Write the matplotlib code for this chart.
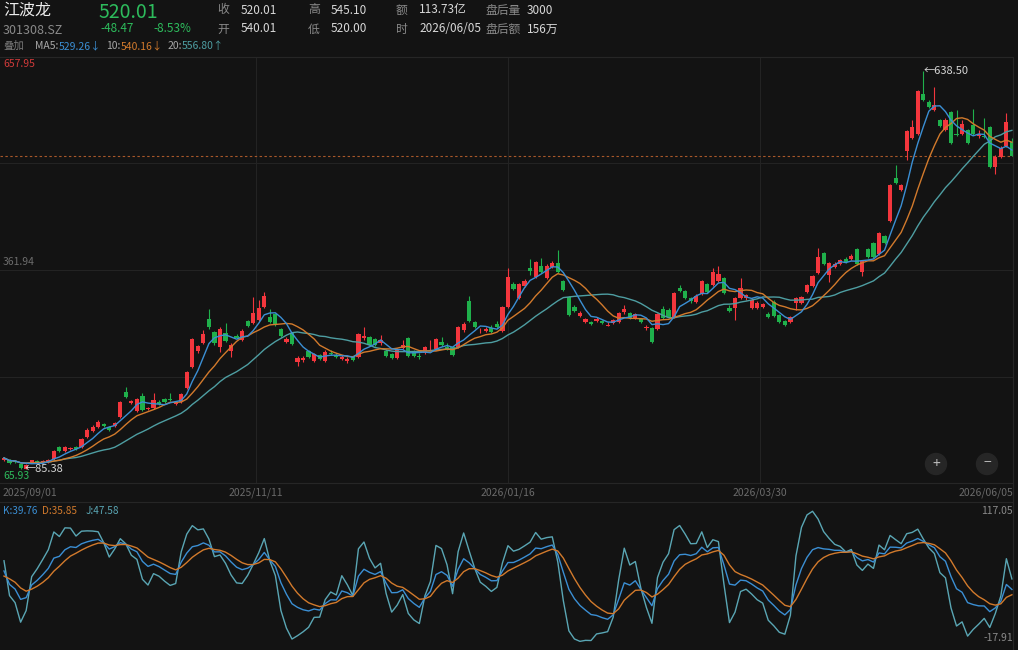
import numpy as np
import pandas as pd
import matplotlib
matplotlib.use('Agg')
import matplotlib.pyplot as plt
from matplotlib.patches import Circle

plt.rcParams['font.family'] = ['Noto Sans CJK SC', 'DejaVu Sans']

W, H = 1018, 650
BG = '#131313'

# ---------------- data ----------------
opens = [
    97.9, 97.9, 96.5, 92.3, 86.0, 95.8, 96.5, 95.1, 95.1, 99.3,
    116.0, 110.4, 113.2, 116.0, 116.0, 129.9, 138.2, 143.8, 147.9, 143.8,
    145.1, 157.6, 192.4, 177.8, 166.0, 186.8, 168.8, 170.2, 178.5, 182.7,
    182.7, 175.8, 178.5, 198.0, 227.1, 249.4, 260.5, 293.8, 275.8, 254.9,
    274.4, 249.4, 270.2, 264.7, 291.1, 288.3, 292.5, 310.5, 296.6, 300.8,
    280.0, 261.9, 274.4, 234.1, 236.9, 249.4, 235.5, 243.8, 235.5, 246.6,
    243.8, 238.3, 235.5, 241.0, 241.0, 267.5, 268.8, 266.1, 260.5, 249.4,
    245.2, 239.7, 253.6, 267.5, 248.0, 242.4, 246.6, 252.9, 252.2, 261.9,
    254.9, 254.9, 254.9, 278.6, 318.9, 289.7, 276.5, 277.2, 281.3, 286.9,
    277.2, 310.5, 342.5, 323.0, 339.7, 364.7, 352.2, 367.5, 350.8, 366.1,
    371.7, 346.7, 324.4, 310.5, 298.0, 289.7, 289.7, 291.1, 291.1, 284.8,
    288.3, 289.7, 303.6, 302.2, 295.2, 293.8, 281.3, 281.3, 280.0, 307.7,
    306.3, 296.6, 336.9, 332.7, 323.0, 317.5, 328.6, 342.5, 341.1, 346.7,
    350.8, 309.1, 309.1, 323.0, 323.0, 309.1, 309.1, 310.5, 300.8, 317.5,
    299.4, 291.1, 289.7, 316.1, 316.1, 331.4, 339.7, 357.8, 385.6, 355.0,
    366.1, 370.3, 377.2, 377.2, 391.1, 359.2, 391.1, 399.5, 384.2, 409.2,
    430.0, 489.8, 473.1, 527.3, 545.4, 550.9, 606.5, 595.4, 584.3, 570.4,
    556.5, 581.5, 550.9, 550.9, 556.5, 563.4, 548.1, 548.1, 560.7, 505.1,
    519.0, 534.3, 540.01]
highs = [
    102.1, 99.3, 97.9, 93.7, 92.3, 97.9, 97.9, 97.9, 99.3, 111.8,
    117.4, 117.4, 116.0, 117.4, 128.5, 142.4, 146.5, 153.5, 149.3, 145.1,
    150.7, 179.9, 199.3, 181.3, 184.1, 191.0, 171.6, 191.0, 181.3, 184.1,
    191.0, 179.9, 191.0, 221.6, 267.5, 257.7, 278.6, 307.7, 277.2, 282.7,
    288.3, 260.5, 273.0, 280.0, 292.5, 324.4, 320.2, 331.4, 307.7, 302.2,
    281.3, 268.8, 275.8, 242.4, 242.4, 250.8, 246.6, 245.2, 250.8, 250.8,
    246.6, 243.8, 241.0, 242.4, 274.4, 282.7, 270.2, 267.5, 271.6, 252.2,
    246.6, 253.6, 264.7, 268.8, 250.8, 246.6, 256.3, 264.7, 267.5, 268.8,
    260.5, 256.3, 284.1, 289.7, 325.8, 291.1, 281.3, 282.7, 285.5, 291.1,
    311.9, 364.7, 345.3, 343.9, 349.5, 377.2, 374.4, 378.6, 370.3, 374.4,
    389.7, 348.0, 325.8, 313.3, 305.0, 295.2, 291.1, 296.6, 292.5, 289.7,
    293.8, 303.6, 313.3, 303.6, 302.2, 295.2, 285.5, 282.7, 302.2, 311.9,
    309.1, 331.4, 341.1, 334.1, 324.4, 328.6, 348.0, 343.9, 364.7, 367.5,
    352.2, 313.3, 324.4, 350.8, 328.6, 323.0, 319.0, 316.0, 303.6, 320.2,
    300.8, 292.5, 298.0, 324.4, 325.8, 342.5, 355.0, 392.5, 387.0, 373.0,
    373.0, 377.2, 380.0, 384.2, 392.5, 375.8, 392.5, 400.9, 414.8, 410.6,
    481.5, 507.8, 481.5, 556.5, 570.4, 612.1, 638.5, 598.2, 616.3, 571.8,
    573.2, 582.9, 584.3, 570.4, 558.1, 585.7, 556.5, 573.2, 562.0, 521.8,
    534.3, 580.1, 545.10]
lows = [
    96.5, 92.3, 93.7, 86.0, 85.38, 95.1, 93.7, 93.7, 93.7, 97.9,
    109.0, 109.0, 111.8, 111.8, 114.6, 128.5, 136.8, 142.4, 143.8, 138.2,
    143.8, 156.3, 184.1, 175.8, 164.6, 166.0, 167.4, 168.8, 174.4, 177.2,
    179.9, 174.4, 177.2, 196.6, 225.7, 246.6, 259.1, 280.0, 257.7, 248.0,
    261.9, 241.0, 266.1, 263.3, 282.7, 286.9, 291.1, 309.1, 288.3, 284.1,
    268.8, 260.5, 257.7, 228.5, 234.1, 239.7, 234.1, 236.9, 234.1, 243.8,
    239.7, 236.9, 232.7, 235.5, 239.7, 264.7, 256.3, 256.3, 257.7, 241.0,
    238.3, 238.3, 252.2, 241.0, 241.0, 238.3, 245.2, 250.8, 250.8, 256.3,
    250.8, 242.4, 253.6, 275.8, 289.7, 281.3, 274.4, 275.8, 274.4, 281.3,
    275.8, 309.1, 334.1, 321.6, 338.3, 355.0, 350.8, 357.8, 349.4, 364.7,
    357.8, 332.7, 298.0, 303.6, 296.6, 288.3, 285.5, 289.7, 286.9, 284.1,
    286.9, 288.3, 300.8, 293.8, 293.8, 288.3, 278.6, 260.5, 278.6, 293.8,
    295.2, 295.2, 331.4, 321.6, 316.1, 316.1, 327.2, 330.0, 339.7, 345.3,
    328.6, 303.6, 292.5, 321.6, 320.2, 307.7, 307.7, 309.0, 295.2, 296.6,
    288.3, 284.1, 288.3, 306.3, 314.7, 330.0, 338.3, 356.4, 368.9, 345.0,
    364.7, 368.9, 371.7, 375.8, 368.9, 353.6, 378.6, 378.6, 382.8, 398.1,
    428.6, 481.5, 471.7, 514.8, 544.0, 549.5, 596.8, 587.1, 582.9, 560.7,
    555.1, 537.0, 548.1, 549.5, 537.0, 549.5, 545.4, 545.4, 503.7, 495.3,
    517.6, 532.9, 520.00]
closes = [
    100.7, 93.7, 95.1, 86.8, 90.9, 97.2, 95.1, 96.5, 97.9, 110.4,
    110.4, 116.0, 114.6, 113.2, 127.1, 139.6, 143.8, 150.7, 145.1, 139.6,
    149.3, 178.5, 185.5, 179.2, 182.7, 167.4, 170.2, 181.3, 175.8, 178.5,
    181.3, 178.5, 189.6, 220.2, 266.0, 256.3, 273.0, 282.7, 260.5, 280.0,
    263.3, 257.7, 267.5, 277.2, 284.1, 302.2, 309.1, 325.8, 289.7, 285.5,
    270.2, 266.1, 259.1, 239.7, 239.7, 241.0, 245.2, 238.3, 248.0, 245.2,
    241.0, 241.0, 238.3, 236.9, 273.0, 270.2, 257.7, 257.7, 264.7, 242.4,
    239.7, 252.2, 257.7, 242.4, 242.4, 241.7, 254.9, 253.6, 266.1, 257.7,
    252.2, 243.8, 282.7, 286.9, 291.1, 282.7, 277.2, 280.0, 275.8, 282.7,
    310.5, 352.2, 335.5, 342.5, 346.7, 360.6, 373.0, 359.2, 367.5, 371.7,
    359.2, 334.1, 299.4, 305.0, 302.2, 293.8, 286.9, 293.8, 288.3, 285.5,
    292.5, 302.2, 307.7, 295.2, 300.8, 289.7, 282.7, 261.9, 300.8, 295.2,
    296.6, 330.0, 332.7, 323.0, 318.9, 325.8, 346.7, 331.4, 359.2, 356.4,
    330.0, 305.0, 323.0, 336.9, 327.2, 320.2, 316.1, 314.7, 296.6, 298.0,
    289.7, 285.5, 296.6, 323.0, 324.4, 341.1, 353.6, 380.0, 370.3, 371.7,
    370.3, 375.8, 373.0, 381.4, 370.3, 374.4, 380.0, 380.0, 413.4, 399.5,
    480.1, 482.8, 480.1, 555.1, 560.7, 610.7, 598.2, 588.5, 591.2, 562.0,
    570.4, 538.4, 549.5, 564.8, 538.4, 550.9, 550.9, 546.7, 505.1, 519.0,
    531.5, 567.6, 520.01]

date_labels = ['2025/09/01', '2025/11/11', '2026/01/16', '2026/03/30', '2026/06/05']
date_index = [0, 45.5, 91, 136.5, 182]

price_axis_top, price_axis_mid, price_axis_bot = 657.95, 361.94, 65.93
kdj_axis_top, kdj_axis_bot = 117.05, -17.91
kdj_last = {'K': 39.76, 'D': 35.85, 'J': 47.58}
ma_last = {'MA5': '529.26↓', '10': '540.16↓', '20': '556.80↑'}
high_mark = (166, 638.50)
low_mark = (4, 85.38)

header_row1 = [('收', '520.01'), ('高', '545.10'), ('额', '113.73亿'), ('盘后量', '3000')]
header_row2 = [('开', '540.01'), ('低', '520.00'), ('时', '2026/06/05'), ('盘后额', '156万')]

# ---------------- styles ----------------
RED = '#f3363d'
GREEN = '#1fb04b'
TXT_GREEN = '#2dbb5c'
C_MA5 = '#3b8fd4'
C_MA10 = '#d27a2c'
C_MA20 = '#4e9ea2'
C_K = '#3b8fd4'
C_D = '#d27a2c'
C_J = '#5aa6b4'
GRID = '#232323'

n = len(closes)
idx = np.arange(n)
o = np.array(opens); h = np.array(highs); l = np.array(lows); c = np.array(closes)
up = c >= o

sc = pd.Series(c)
ma5 = sc.rolling(5, min_periods=1).mean()
ma10 = sc.rolling(10, min_periods=1).mean()
ma20 = sc.rolling(20, min_periods=1).mean()

# KDJ (9,3,3)
llv = pd.Series(l).rolling(9, min_periods=1).min()
hhv = pd.Series(h).rolling(9, min_periods=1).max()
rsv = ((sc - llv) / (hhv - llv) * 100).fillna(50).values
K = np.zeros(n); D = np.zeros(n)
k_prev, d_prev = 50.0, 50.0
for i in range(n):
    k_prev = 2 / 3 * k_prev + rsv[i] / 3
    d_prev = 2 / 3 * d_prev + k_prev / 3
    K[i], D[i] = k_prev, d_prev
J = 3 * K - 2 * D

fig = plt.figure(figsize=(W / 100, H / 100), dpi=100, facecolor=BG)


def rect(x0, y0, x1, y1):
    return [x0 / W, 1 - y1 / H, (x1 - x0) / W, (y1 - y0) / H]


STEP = 5.538
X0 = 4.0
XR = 1013
xlim = (-X0 / STEP, (XR - X0) / STEP)

# ---------------- main candle panel ----------------
ax = fig.add_axes(rect(0, 57, XR, 483))
ax.set_facecolor(BG)
ax.set_xlim(*xlim)
ax.set_ylim(price_axis_bot, price_axis_top)
for sp in ax.spines.values():
    sp.set_visible(False)
ax.set_xticks([]); ax.set_yticks([])

for val in [(price_axis_top + price_axis_mid) / 2, price_axis_mid, (price_axis_mid + price_axis_bot) / 2]:
    ax.axhline(val, color=GRID, lw=0.8, zorder=0)
for xi in date_index[1:-1]:
    ax.axvline(xi, color=GRID, lw=0.8, zorder=0)

cols = np.where(up, RED, GREEN)
ax.vlines(idx, l, h, colors=cols, lw=0.8, zorder=2)
body_bot = np.minimum(o, c)
body_h = np.maximum(np.abs(c - o), 0.9)
ax.bar(idx, body_h, bottom=body_bot, width=0.76, color=cols, linewidth=0, zorder=3)

ax.plot(idx, ma20, color=C_MA20, lw=1.0, zorder=4)
ax.plot(idx, ma10, color=C_MA10, lw=1.0, zorder=4)
ax.plot(idx, ma5, color=C_MA5, lw=1.0, zorder=4)

ax.axhline(c[-1], color='#a8582a', lw=0.8, ls=(0, (2.2, 2.2)), zorder=1)

ax.text(high_mark[0] + 0.1, high_mark[1], '←' + f'{high_mark[1]:.2f}', color='#d6d6d6',
        fontsize=8, va='center', ha='left', zorder=6)
ax.text(low_mark[0] - 0.3, low_mark[1], '←' + f'{low_mark[1]:.2f}', color='#d6d6d6',
        fontsize=8, va='center', ha='left', zorder=6)

# ---------------- KDJ panel ----------------
y_top_px, y_bot_px = 517, 641
scale = (y_bot_px - y_top_px) / (kdj_axis_top - kdj_axis_bot)
k_hi = kdj_axis_top + (y_top_px - 503) / scale
k_lo = kdj_axis_bot - (650 - y_bot_px) / scale
ax2 = fig.add_axes(rect(0, 503, XR, 650))
ax2.set_facecolor(BG)
ax2.set_xlim(*xlim)
ax2.set_ylim(k_lo, k_hi)
for sp in ax2.spines.values():
    sp.set_visible(False)
ax2.set_xticks([]); ax2.set_yticks([])
ax2.plot(idx, J, color=C_J, lw=1.0)
ax2.plot(idx, K, color=C_K, lw=1.0)
ax2.plot(idx, D, color=C_D, lw=1.0)

# ---------------- overlay (text, separators, buttons) ----------------
ov = fig.add_axes([0, 0, 1, 1])
ov.set_xlim(0, W); ov.set_ylim(H, 0)
ov.axis('off')
ov.patch.set_alpha(0)
renderer = fig.canvas.get_renderer()


def seq_text(x, y, parts, fontsize):
    """Place coloured text pieces one after another."""
    for s, col, extra in parts:
        t = ov.text(x, y, s, color=col, fontsize=fontsize, va='center', ha='left')
        bb = t.get_window_extent(renderer=renderer)
        x += bb.width + extra


for yy in (57, 483, 502):
    ov.plot([0, XR], [yy, yy], color='#262626', lw=0.8)
ov.plot([XR, XR], [57, H], color='#262626', lw=0.8)

# header
ov.text(3, 10, '江波龙', color='#ececec', fontsize=11.5, va='center', ha='left')
ov.text(3, 30, '301308.SZ', color='#8a8a8a', fontsize=9, va='center', ha='left')
ov.text(99, 12, f'{c[-1]:.2f}', color=TXT_GREEN, fontsize=14, va='center', ha='left')
ov.text(100, 29, '-48.47', color=TXT_GREEN, fontsize=8.5, va='center', ha='left')
ov.text(153, 29, '-8.53%', color=TXT_GREEN, fontsize=8.5, va='center', ha='left')
lab_x = [217, 308, 396, 485]
val_x = [241, 331, 419, 527]
for (lab, val), lx, vx in zip(header_row1, lab_x, val_x):
    ov.text(lx, 10, lab, color='#8a8a8a', fontsize=8.5, va='center', ha='left')
    ov.text(vx, 10, val, color='#d8d8d8', fontsize=8.5, va='center', ha='left')
for (lab, val), lx, vx in zip(header_row2, lab_x, val_x):
    ov.text(lx, 29, lab, color='#8a8a8a', fontsize=8.5, va='center', ha='left')
    ov.text(vx, 29, val, color='#d8d8d8', fontsize=8.5, va='center', ha='left')

ov.text(3, 46, '叠加', color='#7a7a7a', fontsize=7.5, va='center', ha='left')
seq_text(35, 46, [('MA5:', '#a8a8a8', 0), (ma_last['MA5'], C_MA5, 5),
                  ('10:', '#a8a8a8', 0), (ma_last['10'], C_MA10, 5),
                  ('20:', '#a8a8a8', 0), (ma_last['20'], C_MA20, 0)], 7.5)

# price axis labels
ov.text(3, 64, f'{price_axis_top:.2f}', color='#d03a3a', fontsize=7.5, va='center', ha='left')
ov.text(3, 262, f'{price_axis_mid:.2f}', color='#6c6c6c', fontsize=7.5, va='center', ha='left')
ov.text(3, 476, f'{price_axis_bot:.2f}', color=TXT_GREEN, fontsize=7.5, va='center', ha='left')

# date labels
for i, (lab, di) in enumerate(zip(date_labels, date_index)):
    xpx = X0 + di * STEP
    ha = 'center'
    if i == 0:
        xpx, ha = 3, 'left'
    elif i == len(date_labels) - 1:
        xpx, ha = XR, 'right'
    ov.text(xpx, 493, lab, color='#6a6a6a', fontsize=7.5, va='center', ha=ha)

# KDJ legend and range labels
seq_text(3, 511, [(f'K:{kdj_last["K"]:.2f}', C_K, 5),
                  (f'D:{kdj_last["D"]:.2f}', C_D, 8),
                  (f'J:{kdj_last["J"]:.2f}', C_J, 0)], 7.2)
ov.text(XR, 511, f'{kdj_axis_top:.2f}', color='#8a8a8a', fontsize=7.5, va='center', ha='right')
ov.text(XR, 638, f'{kdj_axis_bot:.2f}', color='#8a8a8a', fontsize=7.5, va='center', ha='right')

# zoom buttons
for cx, sym in ((936, '+'), (987, '−')):
    ov.add_patch(Circle((cx, 464), 10.5, color='#262626', zorder=5))
    ov.text(cx, 463.5, sym, color='#bdbdbd', fontsize=10, va='center', ha='center', zorder=6)

fig.savefig('out.png', dpi=100, facecolor=BG)
